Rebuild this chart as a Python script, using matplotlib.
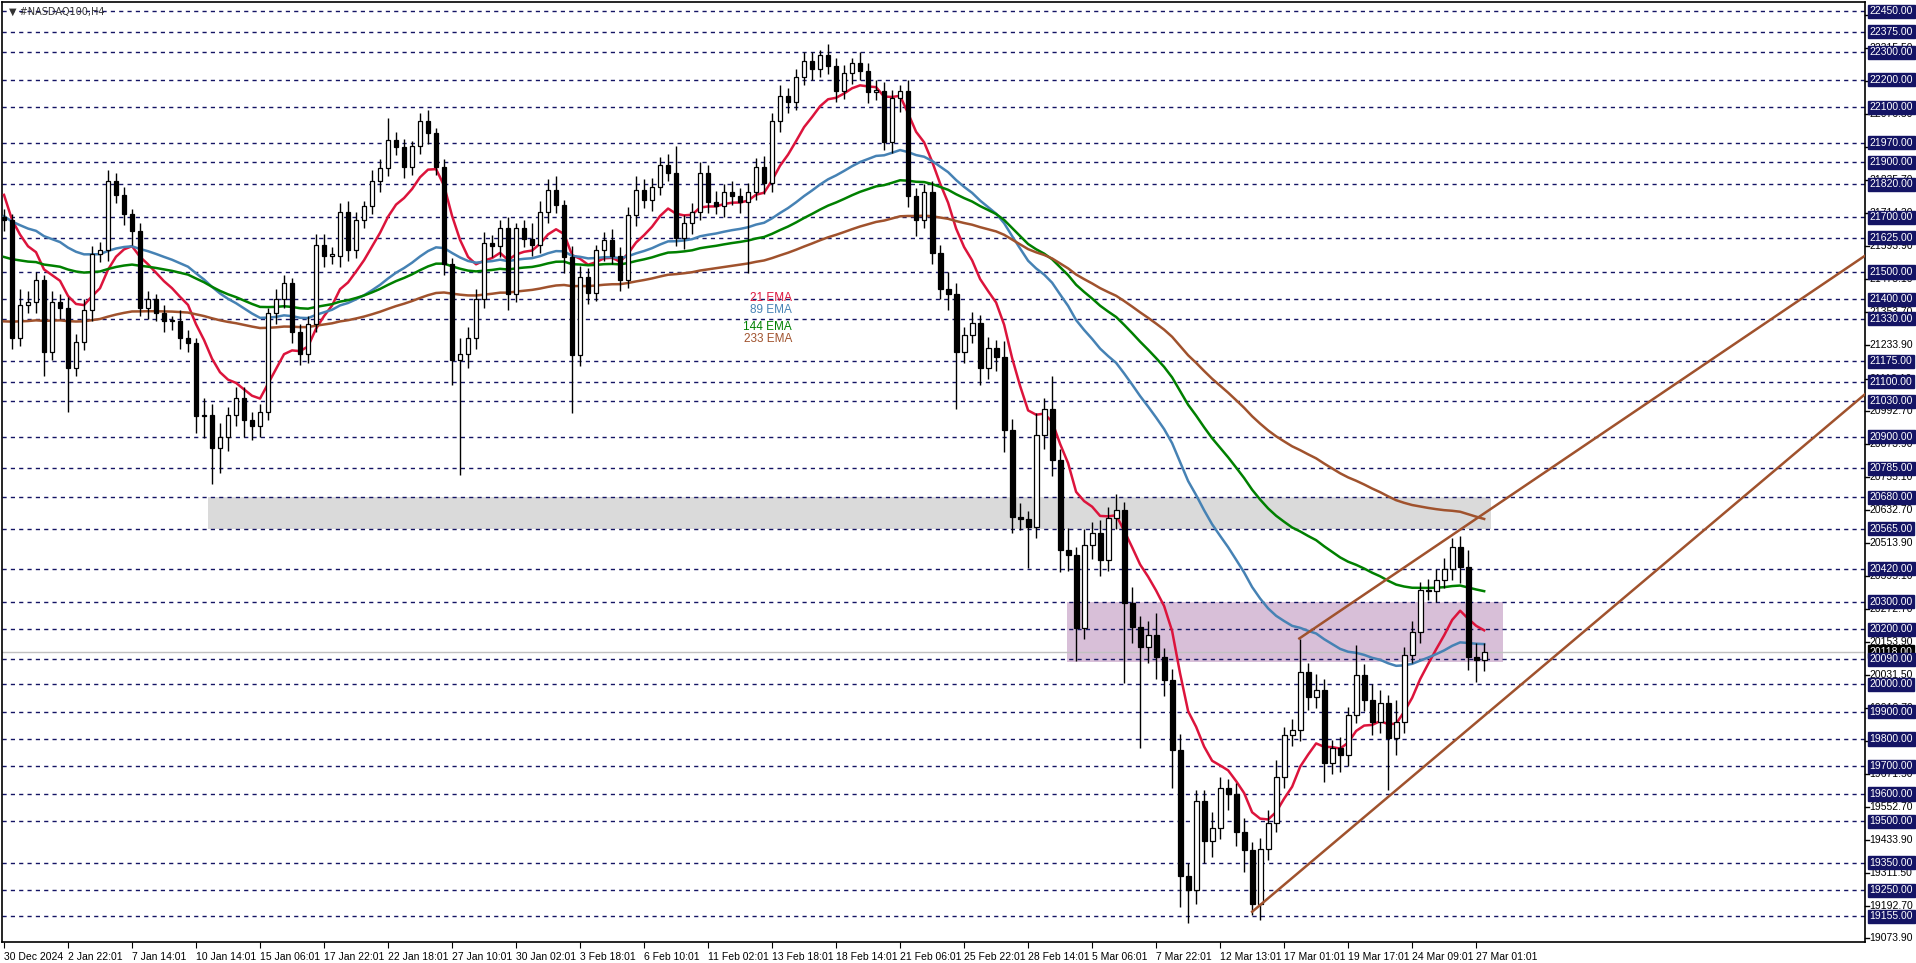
import matplotlib
matplotlib.use("Agg")
import matplotlib.pyplot as plt
from matplotlib.patches import Rectangle
from matplotlib.transforms import blended_transform_factory
import numpy as np

plt.rcParams['font.family'] = ['Liberation Sans', 'DejaVu Sans']

# ---------------- data ----------------
closes = [21690,21260,21380,21390,21470,21210,21390,21370,21150,21245,
          21360,21565,21580,21830,21780,21710,21650,21370,21400,21350,
          21320,21320,21260,21240,20975,20980,20860,20900,20980,21040,
          20960,20940,20990,21350,21400,21460,21280,21200,21310,21600,
          21560,21560,21720,21580,21690,21740,21830,21880,21980,21956,
          21883,21958,22050,22005,21883,21530,21180,21200,21260,21400,
          21605,21595,21660,21420,21660,21620,21600,21720,21800,21744,
          21556,21198,21483,21424,21580,21617,21560,21471,21707,21800,
          21762,21811,21890,21860,21623,21677,21720,21860,21756,21740,
          21790,21775,21756,21793,21884,21823,22050,22140,22120,22210,
          22270,22240,22290,22250,22160,22224,22260,22230,22157,22160,
          21975,22132,22160,21775,21690,21790,21570,21440,21420,21210,
          21270,21313,21150,21222,21190,20925,20609,20600,20573,20906,
          21003,20816,20488,20470,20203,20506,20549,20452,20603,20633,
          20294,20209,20136,20179,20100,20015,19760,19300,19250,19573,
          19430,19475,19623,19600,19461,19396,19200,19400,19493,19663,
          19815,19833,20045,19954,19978,19712,19766,19740,19888,20033,
          19942,19863,19930,19803,19863,20106,20191,20342,20337,20380,
          20420,20500,20427,20100,20088,20118]
first_open = 21700
wick_up = [30,20,60,40,30,20,40,30,40,30, 40,30,30,40,30,30,20,30,30,20,
           30,20,40,30,20,60,40,50,30,40, 40,30,30,20,40,30,20,30,30,40,
           40,30,30,40,30,20,40,30,80,30, 30,20,30,40,20,30,20,60,40,40,
           40,30,30,40,20,30,60,40,40,50, 20,40,40,30,20,30,40,30,30,50,
           40,30,30,40,100,30,30,40,30,40, 30,40,30,30,30,40,30,40,30,30,
           30,30,20,40,30,30,20,40,30,40, 30,30,20,40,30,30,40,30,60,40,
           30,40,30,40,30,60,40,50,30,80, 40,120,40,80,30,60,40,50,40,60,
           30,60,40,50,80,30,40,60,50,40, 40,60,40,30,40,50,30,40,50,60,
           30,40,120,30,60,40,30,40,30,110, 40,60,50,30,80,30,40,30,40,40,
           40,30,40,60,50,30]
wick_dn = [40,40,30,30,40,90,30,40,160,30, 30,40,30,40,30,40,50,30,40,30,
           40,30,40,30,60,80,130,90,50,40, 60,50,40,30,40,30,40,40,30,30,
           40,30,40,40,30,30,30,40,30,30, 40,30,30,40,30,40,90,420,50,40,
           30,40,40,60,30,30,40,30,40,30, 60,210,40,40,30,40,30,40,30,40,
           30,40,30,30,30,40,40,30,40,30, 40,30,40,260,30,40,30,40,40,30,
           30,40,30,30,40,30,40,30,40,30, 30,40,50,40,60,30,40,40,60,210,
           40,30,60,40,50,80,60,40,150,40, 50,60,80,60,120,40,50,60,40,40,
           290,60,370,60,80,60,140,110,120,50, 80,60,40,60,50,80,40,60,40,30,
           40,40,40,50,40,70,40,60,40,30, 40,50,40,190,60,40,30,40,30,40,
           30,40,60,50,80,40]
ema_periods = [21, 89, 144, 233]
ema_seeds = [21800, 21704, 21551, 21314]
ema_colors = ["#dc143c", "#4682b4", "#008000", "#a0522d"]
ema_labels = ["21 EMA", "89 EMA", "144 EMA", "233 EMA"]

level_lines = [22450,22375,22300,22200,22100,21970,21900,21820,21700,21625,21500,
               21400,21330,21175,21100,21030,20900,20785,20680,20565,20420,20300,
               20200,20090,20000,19900,19800,19700,19600,19500,19350,19250,19155]
axis_ticks = [22436.30,22315.50,22195.70,22076.30,21955.50,21835.70,21714.30,21593.90,
              21475.10,21353.70,21233.90,21112.10,20992.70,20873.90,20755.10,20632.70,
              20513.90,20395.10,20272.70,20153.90,20031.50,19912.70,19792.90,19671.50,
              19552.70,19433.90,19311.50,19192.70,19073.90]
date_labels = ["30 Dec 2024","2 Jan 22:01","7 Jan 14:01","10 Jan 14:01","15 Jan 06:01",
               "17 Jan 22:01","22 Jan 18:01","27 Jan 10:01","30 Jan 02:01","3 Feb 18:01",
               "6 Feb 10:01","11 Feb 02:01","13 Feb 18:01","18 Feb 14:01","21 Feb 06:01",
               "25 Feb 22:01","28 Feb 14:01","5 Mar 06:01","7 Mar 22:01","12 Mar 13:01",
               "17 Mar 01:01","19 Mar 17:01","24 Mar 09:01","27 Mar 01:01"]
current_price = 20118.00
gray_zone = (25.5, 185.9, 20565, 20680)
pink_zone = (132.9, 187.4, 20080, 20300)
upper_trend = [(161.9, 20166), (199.5, 20907)]
lower_trend = [(156.0, 19171), (194.5, 20118)]

# ---------------- figure ----------------
W, H = 1916, 963
fig = plt.figure(figsize=(W/100, H/100), dpi=100)
L, R, T, B = 2, 1865, 2, 942
ax = fig.add_axes([L/W, 1-B/H, (R-L)/W, (B-T)/H])
n = len(closes)
xmin, xmax = -0.25, 232.6
ax.set_xlim(xmin, xmax)
ax.set_ylim(19061, 22483)
for s in ax.spines.values():
    s.set_color("black"); s.set_linewidth(1.2)

navy = "#141464"
for lv in level_lines:
    ax.axhline(lv, color=navy, lw=1, ls=(0, (3, 3)), zorder=1)

gx0, gx1, gy0, gy1 = gray_zone
ax.add_patch(Rectangle((gx0, gy0), gx1-gx0, gy1-gy0, color="#dadada", zorder=0.5, lw=0))
px0, px1, py0, py1 = pink_zone
ax.add_patch(Rectangle((px0, py0), px1-px0, py1-py0, color="#d8bfd8", zorder=0.5, lw=0))

ax.axhline(current_price, color="#c0c0c0", lw=1, zorder=1.5)

# EMAs (per candle = 2 H4 bars)
idx = np.arange(n)
for p, seed, col in zip(ema_periods, ema_seeds, ema_colors):
    a = 2.0/(p+1)
    a2 = 1-(1-a)**2
    e = []
    v = seed
    for c in closes:
        v = v + a2*(c-v)
        e.append(v)
    ax.plot(idx, e, color=col, lw=1.8, zorder=3)

# candles
opens = [first_open] + closes[:-1]
bw = 0.6
for i in range(n):
    o, c = opens[i], closes[i]
    hi = max(o, c) + wick_up[i]
    lo = min(o, c) - wick_dn[i]
    ax.vlines(i, lo, hi, color="black", lw=1, zorder=4)
    bot, top = min(o, c), max(o, c)
    hgt = max(top-bot, 4)
    fc = "white" if c >= o else "black"
    ax.add_patch(Rectangle((i-bw/2, bot), bw, hgt, facecolor=fc, edgecolor="black", lw=0.9, zorder=5))

# trendlines (rays)
for (x0, y0), (x1, y1) in (upper_trend, lower_trend):
    slope = (y1-y0)/(x1-x0)
    ax.plot([x0, xmax], [y0, y0+slope*(xmax-x0)], color="#a0522d", lw=1.8, zorder=6)

# EMA legend text
for k, (lab, col) in enumerate(zip(ema_labels, ema_colors)):
    yv = [21405, 21362, 21300, 21255][k]
    ax.text(98.5, yv, lab, color=col, fontsize=8.5, ha="right", va="center", zorder=7)

# x ticks
tick_pos = [8*k for k in range(len(date_labels))]
ax.set_xticks(tick_pos)
ax.set_xticklabels(date_labels, fontsize=7.5, ha="left")
ax.tick_params(axis="x", length=4, pad=3)
ax.set_yticks([])

# right axis labels
tr = blended_transform_factory(ax.transAxes, ax.transData)
for v in axis_ticks:
    if 19061 < v < 22483:
        ax.plot([1.0, 1.002], [v, v], color="black", lw=1, transform=tr, clip_on=False)
        ax.text(1.0025, v, f"{v:.2f}", fontsize=7.5, ha="left", va="center", transform=tr, clip_on=False)
for lv in level_lines:
    ax.text(1.0025, lv, f"{lv:.2f}", fontsize=7.5, ha="left", va="center", color="white",
            transform=tr, clip_on=False, zorder=10,
            bbox=dict(boxstyle="square,pad=0.15", fc=navy, ec=navy))
ax.text(1.0025, current_price, f"{current_price:.2f}", fontsize=7.5, ha="left", va="center",
        color="white", transform=tr, clip_on=False, zorder=9,
        bbox=dict(boxstyle="square,pad=0.15", fc="black", ec="black"))

ax.text(0.004, 0.995, "\u25BC #NASDAQ100,H4", fontsize=7, ha="left", va="top",
        transform=ax.transAxes, color="#333333", family=['DejaVu Sans'])

fig.savefig("out.png", dpi=100)
